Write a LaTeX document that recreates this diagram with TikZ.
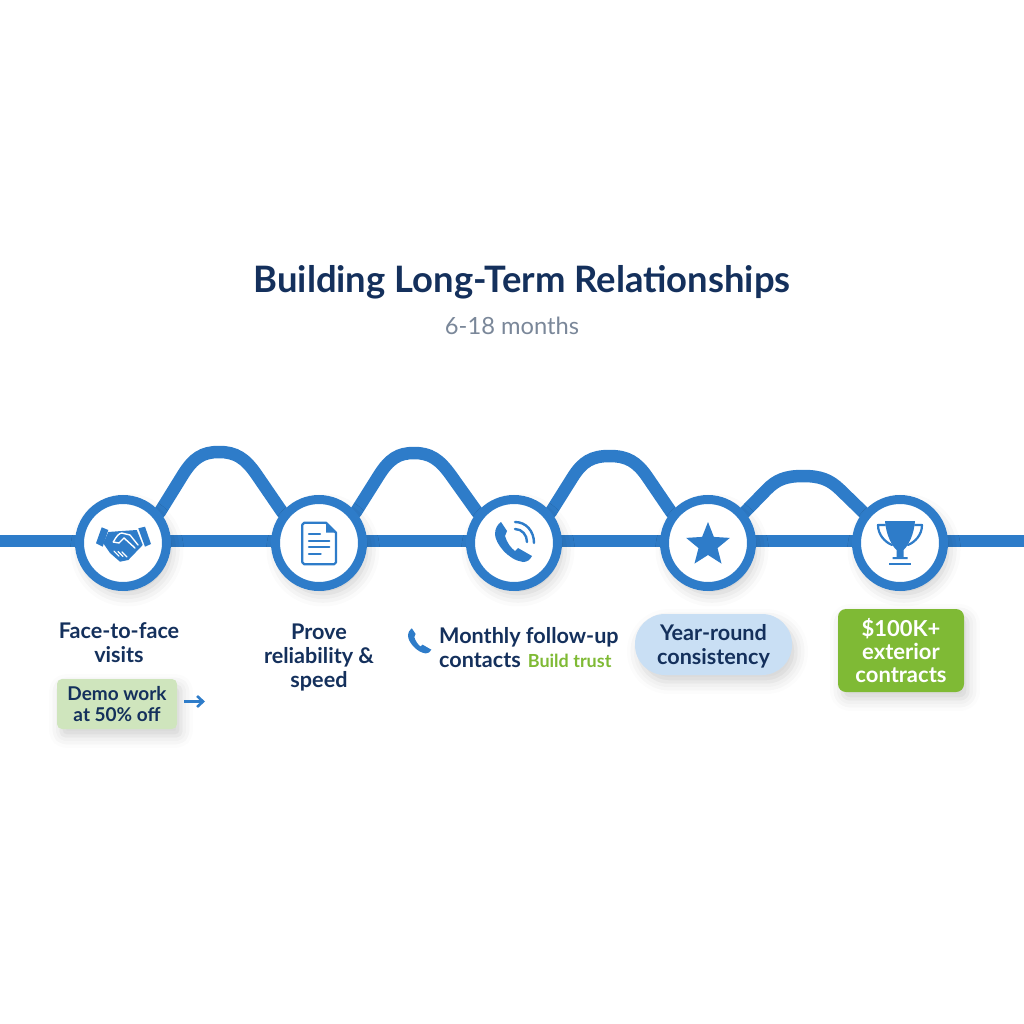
\documentclass[tikz,border=0pt]{standalone}
\usepackage{fontspec}
\setmainfont{Lato}
\usetikzlibrary{calc,shapes.geometric,shadows.blur,arrows.meta}
\definecolor{roadblue}{HTML}{2E7CC9}
\definecolor{navy}{HTML}{14305C}
\definecolor{mist}{HTML}{7A8799}
\definecolor{leaf}{HTML}{7FBA35}
\definecolor{paleleaf}{HTML}{CFE5BD}
\definecolor{paleblue}{HTML}{C9DFF4}
\tikzset{handset/.pic={
    \fill[roadblue] (-13,-21) -- (-7,-12) -- (-9,-7) .. controls (-7,0) and (-3,5) .. (1,8) -- (4,5) -- (18,13)
        .. controls (16,17) and (13,19) .. (9,19) .. controls (-6,17) and (-19,0) .. (-19,-9)
        .. controls (-19,-15) and (-16,-19) .. (-13,-21) -- cycle;
}}
\begin{document}
\begin{tikzpicture}[x=1pt,y=-1pt]
        \tikzstyle{stopspot}=[circle, line width=9pt, inner sep=0pt, minimum size=87pt]
        \tikzstyle{stopnode}=[stopspot, draw=roadblue, fill=white,
            blur shadow={shadow xshift=4pt, shadow yshift=-7pt, shadow blur radius=13pt, shadow opacity=22}]
        \tikzstyle{wire}=[roadblue, line width=12pt]
        \tikzstyle{hump}=[roadblue, line width=12.5pt, line cap=round]
        \tikzstyle{label}=[text=navy, font=\fontsize{21.6}{24}\selectfont\bfseries, align=center, inner sep=0pt]
        \tikzstyle{softshadow}=[blur shadow={shadow xshift=4pt, shadow yshift=-7pt, shadow blur radius=12pt, shadow opacity=18}]
        \tikzstyle{iconline}=[roadblue, line width=2.2pt, line cap=round, line join=round]
        \useasboundingbox (0,0) rectangle (1024,1024);
        \node[text=navy, font=\fontsize{36.4}{40}\selectfont\bfseries, inner sep=0pt] (title) at (522,282.5) {Building Long-Term Relationships};
        \node[text=mist, font=\fontsize{23.7}{26}\selectfont, inner sep=0pt] (months) at (512,326) {6-18 months};
        \foreach \i/\x in {1/123,2/319,3/514,4/708,5/900} \node[stopspot] (n\i) at (\x,543) {};
        \coordinate (roadleft) at (0,541);
        \coordinate (roadright) at (1024,541);
        \foreach \i/\a/\b/\t in {1/197/241/452,2/393/435/453,3/586/633/456,4/780/826/476}
            \coordinate (pa\i) at (\a,\t);
        \foreach \i/\a/\b/\t in {1/197/241/452,2/393/435/453,3/586/633/456,4/780/826/476}
            \coordinate (pb\i) at (\b,\t);
        \path[wire] (roadleft) edge (roadright);
        \foreach \i in {1,2,3,4} {
            \pgfmathtruncatemacro{\k}{\i+1}
            \coordinate (top\i) at ($(pa\i)!0.5!(pb\i)$);
            \draw[hump] (n\i.40) -- ($(n\i.40)!0.62!(pa\i)$) .. controls ($(n\i.40)!0.9!(pa\i)$) and ($(top\i)!0.75!(pa\i)$) .. (top\i)
                .. controls ($(top\i)!0.75!(pb\i)$) and ($(n\k.140)!0.9!(pb\i)$) .. ($(n\k.140)!0.62!(pb\i)$) -- (n\k.140);
        }
        \foreach \i in {1,2,3,4,5} \node[stopnode] (stop\i) at (n\i) {};
        % handshake
        \begin{scope}[shift={(n1.center)}]
            \fill[roadblue] (-27,0.3) -- (-21.3,-15.7) -- (-14.7,-13) -- (-20.3,3.7) -- cycle;
            \fill[roadblue] (15.3,-14.7) -- (22,-16.3) -- (28,1) -- (22,3.7) -- cycle;
            \fill[roadblue] (-14.7,-11) -- (-1.3,-12) -- (13.7,-13) -- (19.7,2) -- (5.3,17) -- (-3,18.7) -- (-13,10) -- (-19.7,0.3) -- cycle;
            \draw[white, line width=1.4pt, line cap=round, line join=round] (-9.7,-1) .. controls (-7,-6) and (-4,-10) .. (-1.3,-10) -- (7,-8) -- (15,2);
            \draw[white, line width=1.4pt, line cap=round] (-9.7,-1) -- (-4,0) -- (1,-5) -- (12,5);
            \foreach \s/\e in {-9/-4,-5/0,-1/4} \draw[white, line width=1.2pt, line cap=round] (\s,9+\s*0.1) -- (\e,14+\s*0.1);
        \end{scope}
        % document
        \begin{scope}[shift={(n2.center)}]
            \draw[iconline] (7,-20.3) -- (-14.7,-20.3) -- (-16.7,-18.3) -- (-16.7,19.3) -- (-14.7,21.3) -- (15,21.3) -- (17,19.3) -- (17,-10.3) -- cycle;
            \fill[roadblue] (7,-20.3) -- (17,-10.3) -- (7,-10.3) -- cycle;
            \foreach \y/\e in {-9/1,-2.3/10.3,4.3/10.3,11/1.7} \draw[iconline] (-10,\y) -- (\e,\y);
        \end{scope}
        % phone
        \begin{scope}[shift={(n3.center)}]
            \pic {handset};
            \draw[iconline, line width=2.4pt] (1,-14) .. controls (8,-14) and (13,-8) .. (13,-1);
            \draw[iconline, line width=2.4pt] (1,-21) .. controls (12,-21) and (20,-12) .. (20,0);
        \end{scope}
        \node[star, star points=5, star point ratio=2.3, fill=roadblue, inner sep=0pt, minimum size=46pt] (starmark) at (708,545) {};
        % trophy
        \begin{scope}[shift={(n5.center)}]
            \fill[roadblue] (-15,-22) -- (15,-22) .. controls (14,-8) and (8,3) .. (3.5,7) -- (3.5,14) -- (7.7,14) -- (7.7,16) -- (-7.3,16) -- (-7.3,14) -- (-3.5,14) -- (-3.5,7) .. controls (-8,3) and (-14,-8) .. (-15,-22) -- cycle;
            \draw[iconline] (-15,-18) -- (-22,-18) .. controls (-22,-8) and (-15,-1) .. (-8,2);
            \draw[iconline] (15,-18) -- (22,-18) .. controls (22,-8) and (15,-1) .. (8,2);
            \fill[roadblue] (-11,20) rectangle (11,22);
        \end{scope}
        % labels
        \node[label] (visits) at (119,643) {Face-to-face\\visits};
        \node[label] (prove) at (319,657) {Prove\\reliability \&\\speed};
        \pic[scale=0.63] at (420,641.5) {handset};
        \node[label, align=left, anchor=north west] (monthly) at (439,627.5) {Monthly follow-up\\contacts\hspace{7pt}\textcolor{leaf}{\fontsize{18}{24}\selectfont Build trust}};
        \node[label, fill=paleleaf, rounded corners=5pt, softshadow, minimum width=120pt, minimum height=50pt, font=\fontsize{19}{21}\selectfont\bfseries] (demo) at (117,704) {Demo work\\at 50\% off};
        \coordinate (demoa) at (184,701.5);
        \coordinate (demob) at (205,701.5);
        \draw[-{Straight Barb[length=6pt,width=11pt]}, roadblue, line width=2.6pt] (demoa) -- (demob);
        \node[label, fill=paleblue, rounded corners=30pt, softshadow, minimum width=157pt, minimum height=61pt] (yearly) at (713.5,644.5) {\rule{0pt}{19.5pt}Year-round\\consistency};
        \node[label, text=white, fill=leaf, rounded corners=8pt, softshadow, minimum width=126pt, minimum height=83pt, font=\fontsize{22}{23}\selectfont\bfseries] (contracts) at (901,650.5) {\$100K+\\exterior\\contracts};
\end{tikzpicture}
\end{document}
